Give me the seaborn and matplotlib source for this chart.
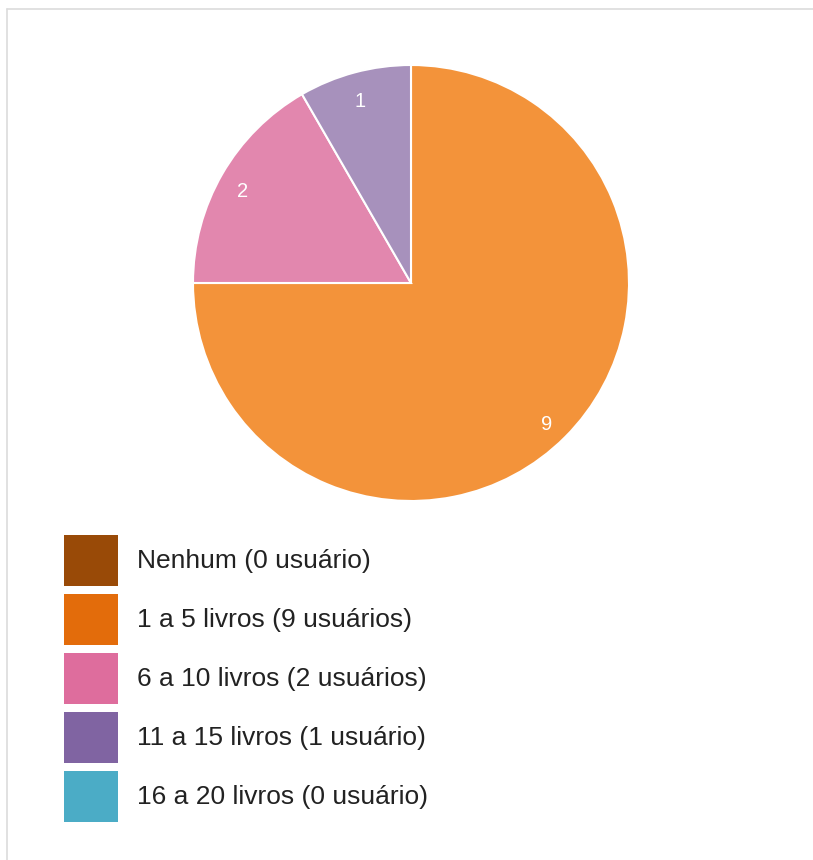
import matplotlib
matplotlib.use("Agg")
import matplotlib.pyplot as plt
from matplotlib.patches import Patch
from matplotlib.lines import Line2D
from matplotlib.transforms import offset_copy
import seaborn as sns

sns.set_theme(style="white")
plt.rcParams['font.family'] = ['Liberation Sans', 'DejaVu Sans']

categories = ["Nenhum (0 usuário)", "1 a 5 livros (9 usuários)", "6 a 10 livros (2 usuários)",
              "11 a 15 livros (1 usuário)", "16 a 20 livros (0 usuário)"]
values = [0, 9, 2, 1, 0]
legend_colors = ["#994A07", "#E36C0B", "#DE6D9D", "#8064A2", "#4BACC6"]
pie_colors = ["#B36A2C", "#F3933A", "#E287AE", "#A791BC", "#75BFD3"]

W, H = 813, 860
fig = plt.figure(figsize=(W / 100, H / 100), dpi=100)

# light border
fig.add_artist(Line2D([7 / W, 7 / W], [0, 1 - 9 / H], color="#dcdcdc", lw=1.2))
fig.add_artist(Line2D([7 / W, 1], [1 - 9 / H, 1 - 9 / H], color="#dcdcdc", lw=1.2))

cx, cy, r = 411, 283, 218
ax = fig.add_axes([(cx - r) / W, (H - cy - r) / H, 2 * r / W, 2 * r / H])
nz = [(v, c) for v, c in zip(values, pie_colors) if v > 0]
vals = [v for v, _ in nz]
cols = [c for _, c in nz]
wedges, texts = ax.pie(vals, colors=cols, startangle=90, counterclock=False,
                       labels=[str(v) for v in vals], labeldistance=0.885,
                       wedgeprops=dict(edgecolor="white", linewidth=1.5),
                       textprops=dict(color="white", fontsize=14.5))
for t in texts:
    t.set_horizontalalignment("center")
    t.set_verticalalignment("center")
    t.set_transform(offset_copy(t.get_transform(), fig=fig, x=-1, y=-5, units="dots"))
ax.set_xlim(-1, 1)
ax.set_ylim(-1, 1)
ax.set_aspect("equal")
ax.axis("off")

handles = [Patch(facecolor=c, edgecolor="none") for c in legend_colors]
fs = 19
fs_px = fs * 100 / 72
hh = (51 / fs_px - 0.245) / 0.65
leg = fig.legend(handles, categories, loc="upper left",
                 bbox_to_anchor=(64 / W, 1 - 535 / H), borderaxespad=0, borderpad=0,
                 frameon=False, fontsize=fs,
                 handlelength=54 / fs_px, handleheight=hh,
                 handletextpad=19 / fs_px, labelspacing=8 / fs_px)
for t in leg.get_texts():
    t.set_color("#222222")

fig.savefig("out.png", dpi=100, facecolor="white")
